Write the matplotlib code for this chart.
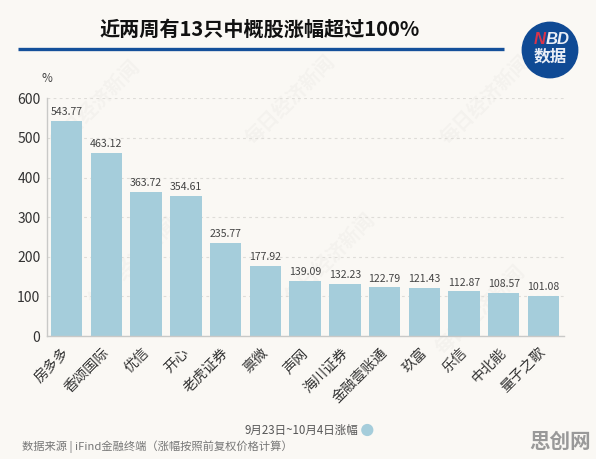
import matplotlib
matplotlib.use("Agg")
import matplotlib.pyplot as plt
from matplotlib.patches import Circle
from matplotlib.transforms import ScaledTranslation

plt.rcParams['font.family'] = ['Noto Sans CJK SC', 'DejaVu Sans']

names = ['房多多', '香颂国际', '优信', '开心', '老虎证券', '禀微', '声网', '海川证券',
         '金融壹账通', '玖富', '乐信', '中北能', '量子之歌']
values = [543.77, 463.12, 363.72, 354.61, 235.77, 177.92, 139.09, 132.23,
          122.79, 121.43, 112.87, 108.57, 101.08]
yticks = [0, 100, 200, 300, 400, 500, 600]
title = '近两周有13只中概股涨幅超过100%'
legend_label = '9月23日~10月4日涨幅'
source = '数据来源 | iFind金融终端（涨幅按照前复权价格计算）'
watermark = '每日经济新闻'

W, H = 596, 459
BG = '#faf8f4'
BAR = '#a5cddb'
fig = plt.figure(figsize=(W / 100, H / 100), dpi=100, facecolor=BG)

# overlay axes in pixel coordinates (y down)
ov = fig.add_axes([0, 0, 1, 1])
ov.set_xlim(0, W)
ov.set_ylim(H, 0)
ov.axis('off')

ax = fig.add_axes([46.7 / W, 1 - 336 / H, (563.6 - 46.7) / W, (336 - 98.3) / H])
ax.set_facecolor('none')
ax.bar(range(len(values)), values, width=0.79, color=BAR, zorder=2)
ax.set_xlim(-0.501, 12.505)
ax.set_ylim(0, 600)
ax.set_yticks(yticks)
ax.set_yticklabels([str(v) for v in yticks], fontsize=10, color='#333333')
ax.tick_params(axis='y', length=0, pad=4.5)
ax.tick_params(axis='x', length=0, pad=7)
ax.set_xticks(range(len(names)))
ax.set_xticklabels(names, rotation=45, ha='right', rotation_mode='anchor',
                   fontsize=10.2, color='#333333')
shift = ScaledTranslation(-3.2 / 72, 0, fig.dpi_scale_trans)
for label in ax.get_xticklabels():
    label.set_transform(label.get_transform() + shift)
ax.grid(axis='y', color='#dedcd8', linestyle=(0, (2.5, 3)), linewidth=0.8, zorder=0)
ax.set_axisbelow(True)
for s in ['top', 'right']:
    ax.spines[s].set_visible(False)
for s in ['left', 'bottom']:
    ax.spines[s].set_color('#c9c9c7')
    ax.spines[s].set_linewidth(1.0)
for i, v in enumerate(values):
    ax.annotate(f'{v:.2f}', (i, v), xytext=(0, 2.6), textcoords='offset points',
                ha='center', va='bottom', fontsize=7.6, color='#444444')

# faint diagonal watermarks
for wx, wy in [(95, 105), (290, 100), (485, 100), (133, 262), (330, 258), (480, 310)]:
    ov.text(wx, wy, watermark, fontsize=14, fontweight='bold', rotation=45, ha='center',
            va='center', color='#808080', alpha=0.05, zorder=5)

ov.text(260, 29.5, title, fontsize=14.5, fontweight='bold', ha='center', va='center', color='#111111')
ov.plot([18, 504], [49, 49], color='#14509a', lw=2.4, solid_capstyle='butt')
ov.text(46.5, 79, '%', fontsize=8.5, ha='center', va='center', color='#444444')

ov.add_patch(Circle((550, 50), 27.7, color='#0f4a94', zorder=6))
ov.text(546, 39, 'N', color='#d8344a', fontsize=12, fontweight='bold', style='italic',
        family='Liberation Sans', ha='right', va='center', zorder=7)
ov.text(546, 39, 'BD', color='#e9eef6', fontsize=12, fontweight='bold', style='italic',
        family='Liberation Sans', ha='left', va='center', zorder=7)
ov.text(550, 56, '数据', color='#e9eef6', fontsize=12, fontweight='bold',
        ha='center', va='center', zorder=7)

ov.text(358, 430, legend_label, fontsize=8.3, ha='right', va='center', color='#555555')
ov.add_patch(Circle((367.3, 430), 5.4, color=BAR))
ov.text(22, 447, source, fontsize=8.1, ha='left', va='center', color='#777777')
ov.text(559.5, 441, '思创网', fontsize=14.8, fontweight='bold', ha='center', va='center', color='#999999')

fig.savefig('out.png', dpi=100, facecolor=BG)
